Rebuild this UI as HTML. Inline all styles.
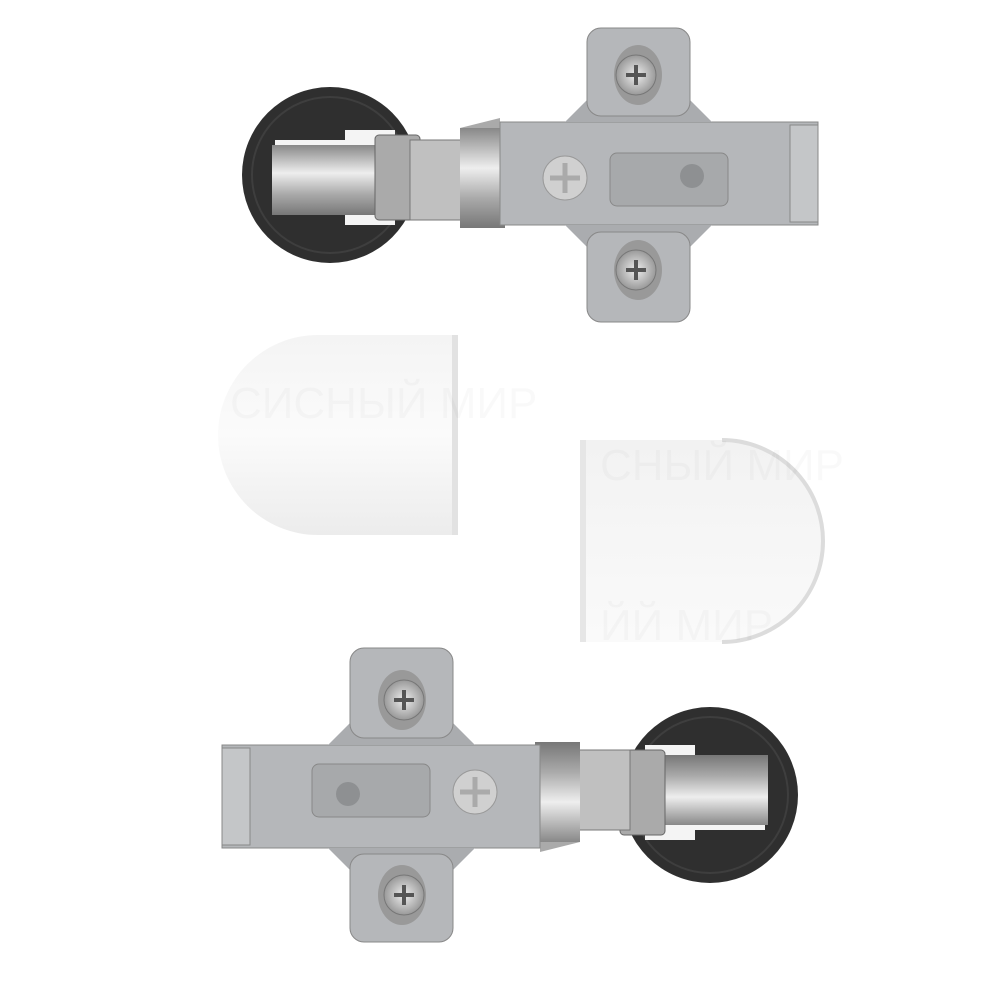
<!DOCTYPE html>
<html><head><meta charset="utf-8"><style>html,body{margin:0;background:#fff;overflow:hidden}svg{display:block}</style></head>
<body>
<svg width="1000" height="1000" viewBox="0 0 1000 1000" xmlns="http://www.w3.org/2000/svg">
<defs>
<linearGradient id="cap1" x1="0" y1="0" x2="0" y2="1"><stop offset="0" stop-color="#f4f4f4"/><stop offset="0.5" stop-color="#fbfbfb"/><stop offset="1" stop-color="#ececec"/></linearGradient>
<linearGradient id="cap2" x1="0" y1="0" x2="0" y2="1"><stop offset="0" stop-color="#f2f2f2"/><stop offset="1" stop-color="#fafafa"/></linearGradient>
<linearGradient id="chrome" x1="0" y1="0" x2="0" y2="1"><stop offset="0" stop-color="#888"/><stop offset="0.4" stop-color="#eee"/><stop offset="0.7" stop-color="#aaa"/><stop offset="1" stop-color="#777"/></linearGradient>
<radialGradient id="screw"><stop offset="0" stop-color="#eee"/><stop offset="1" stop-color="#999"/></radialGradient>
</defs>

<g id="hinge">
<ellipse cx="330" cy="175" rx="88" ry="88" fill="#2f2f2f"/>
<ellipse cx="330" cy="175" rx="78" ry="78" fill="none" stroke="#3e3e3e" stroke-width="2"/>
<path d="M275 140 L345 140 L345 130 L395 130 L395 225 L345 225 L345 212 L275 212 Z" fill="#f4f4f4"/>
<rect x="272" y="145" width="140" height="70" fill="url(#chrome)"/>
<rect x="375" y="135" width="45" height="85" rx="4" fill="#aaa" stroke="#666"/>
<rect x="410" y="140" width="60" height="80" fill="#c0c0c0" stroke="#777"/>
<rect x="460" y="128" width="45" height="100" fill="url(#chrome)"/>
<polygon points="460,128 500,118 500,128" fill="#aaa"/>
<rect x="500" y="122" width="318" height="103" fill="#b5b7ba" stroke="#888"/>
<rect x="790" y="125" width="28" height="97" fill="#c4c6c8" stroke="#888"/>
<path d="M565 122 L587 100 L690 100 L712 122 Z" fill="#aaacaf"/>
<path d="M565 225 L587 247 L690 247 L712 225 Z" fill="#aaacaf"/>
<rect x="587" y="28" width="103" height="88" rx="14" fill="#b5b7ba" stroke="#888"/>
<rect x="587" y="232" width="103" height="90" rx="14" fill="#b5b7ba" stroke="#888"/>
<ellipse cx="638" cy="75" rx="24" ry="30" fill="#999"/>
<circle cx="636" cy="75" r="20" fill="url(#screw)" stroke="#777"/>
<path d="M626 75 H646 M636 65 V85" stroke="#555" stroke-width="4"/>
<ellipse cx="638" cy="270" rx="24" ry="30" fill="#999"/>
<circle cx="636" cy="270" r="20" fill="url(#screw)" stroke="#777"/>
<path d="M626 270 H646 M636 260 V280" stroke="#555" stroke-width="4"/>
<circle cx="565" cy="178" r="22" fill="#d0d0d0" stroke="#999"/>
<path d="M550 178 H580 M565 163 V193" stroke="#aaa" stroke-width="5"/>
<rect x="610" y="153" width="118" height="53" rx="7" fill="#a7a9ab" stroke="#888"/>
<circle cx="692" cy="176" r="12" fill="#8e9092"/>
</g>

<g transform="translate(1040 970) rotate(180)">
<use href="#hinge" xlink:href="#hinge" xmlns:xlink="http://www.w3.org/1999/xlink"/>
</g>

<path d="M318 335 L456 335 L456 535 L318 535 A100 100 0 0 1 318 335 Z" fill="url(#cap1)"/>
<rect x="452" y="335" width="6" height="200" fill="#e2e2e2"/>
<path d="M584 440 L722 440 A101 101 0 0 1 722 642 L584 642 Z" fill="url(#cap2)"/>
<path d="M722 440 A101 101 0 0 1 722 642" fill="none" stroke="#dcdcdc" stroke-width="4"/>
<rect x="580" y="440" width="6" height="202" fill="#e6e6e6"/>

<g font-family="Liberation Sans, sans-serif" font-size="44" fill="#000" fill-opacity="0.025">
<text x="230" y="418">СИСНЫЙ МИР</text>
<text x="600" y="480">СНЫЙ МИР</text>
<text x="600" y="640">ЙЙ МИР</text>
</g>
</svg>
</body></html>
